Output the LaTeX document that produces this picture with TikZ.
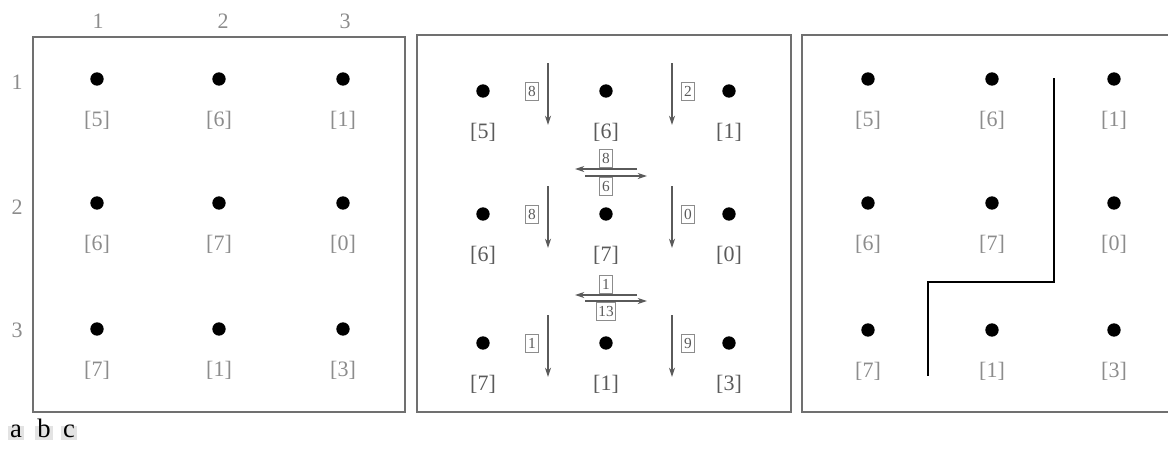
\documentclass[tikz,border=0pt]{standalone}
\usepackage{fontspec}
\setmainfont{Liberation Serif}
\usetikzlibrary{arrows.meta,positioning}
\definecolor{framegray}{HTML}{707070}
\definecolor{labgray}{HTML}{8C8C8C}
\definecolor{darklab}{HTML}{5A5A5A}
\begin{document}
\begin{tikzpicture}[x=0.75pt,y=-0.75pt,
  dot/.style={circle,fill=black,inner sep=0pt,minimum size=10pt},
  val/.style={text=labgray,font=\fontsize{16.5}{18}\selectfont},
  dval/.style={val,text=darklab},
  wt/.style={draw=labgray,line width=0.5pt,text=darklab,font=\fontsize{11.5}{12}\selectfont,inner sep=1.5pt,minimum height=13.5pt,minimum width=9.5pt},
  hdr/.style={text=labgray,font=\fontsize{16.5}{18}\selectfont},
  panel/.style={draw=framegray,line width=0.8pt},
  flow/.style={draw=darklab,line width=0.8pt,-{Stealth[length=7pt,width=4.5pt]}},
  seam/.style={line width=2.2pt},
  tag/.style={fill=gray!22,inner sep=1.5pt,text height=0.72em,text depth=0.05em,font=\fontsize{20}{21}\selectfont}]
\useasboundingbox (0,0) rectangle (1168,469);
% frames
\draw[panel] (33,37) rectangle (405,412);
\draw[panel] (417,35) rectangle (791,412);
\draw[panel] (802,35) rectangle (1175,412);
% headers
\foreach \c/\x in {1/98,2/223,3/345}
  \node[hdr] (col\c) at (\x,21) {\c};
\foreach \r/\y in {1/82,2/207,3/330}
  \node[hdr] (row\r) at (17,\y) {\r};
% dots
\foreach \r/\ya/\yb/\yc in {1/79/91/79,2/203/214/203,3/329/343/330} {
  \foreach \c/\xa/\xb/\xc in {1/97/483/868,2/219/606/992,3/343/729/1114} {
    \node[dot] (a\r\c) at (\xa,\ya) {};
    \node[dot] (b\r\c) at (\xb,\yb) {};
    \node[dot] (c\r\c) at (\xc,\yc) {};
  }
}
% values
\foreach \r/\c/\v in {1/1/5,1/2/6,1/3/1,2/1/6,2/2/7,2/3/0,3/1/7,3/2/1,3/3/3} {
  \node[val,below=15.5pt of a\r\c] (la\r\c) {[\v]};
  \node[dval,below=15.5pt of b\r\c] (lb\r\c) {[\v]};
  \node[val,below=15.5pt of c\r\c] (lc\r\c) {[\v]};
}
% vertical flows
\foreach \r/\y/\wl/\wr in {1/91/8/2,2/214/8/0,3/343/1/9} {
  \coordinate (vl\r s) at (548,\y-28);
  \coordinate (vl\r e) at (548,\y+34);
  \coordinate (vr\r s) at (672,\y-28);
  \coordinate (vr\r e) at (672,\y+34);
  \draw[flow] (vl\r s) -- (vl\r e);
  \draw[flow] (vr\r s) -- (vr\r e);
  \node[wt] (wl\r) at (532,\y) {\wl};
  \node[wt] (wr\r) at (688,\y) {\wr};
}
% horizontal flows
\foreach \k/\ya/\yb/\wa/\wb in {1/169/176/8/6,2/295/301/1/13} {
  \coordinate (hl\k s) at (637,\ya);
  \coordinate (hl\k e) at (575,\ya);
  \coordinate (hr\k s) at (585,\yb);
  \coordinate (hr\k e) at (647,\yb);
  \draw[flow] (hl\k s) -- (hl\k e);
  \draw[flow] (hr\k s) -- (hr\k e);
  \node[wt,above=1pt of hl\k s-|b12] (wa\k) {\wa};
  \node[wt,below=1pt of hr\k s-|b12] (wb\k) {\wb};
}
% seam
\coordinate (s1) at (1054,78);
\coordinate (s2) at (1054,282);
\coordinate (s3) at (928,282);
\coordinate (s4) at (928,376);
\draw[seam] (s1) -- (s2) -- (s3) -- (s4);
% sub-figure tags
\node[tag] (ta) at (16,433) {a};
\node[tag] (tb) at (44,433) {b};
\node[tag] (tc) at (69,433) {c};
\end{tikzpicture}
\end{document}
